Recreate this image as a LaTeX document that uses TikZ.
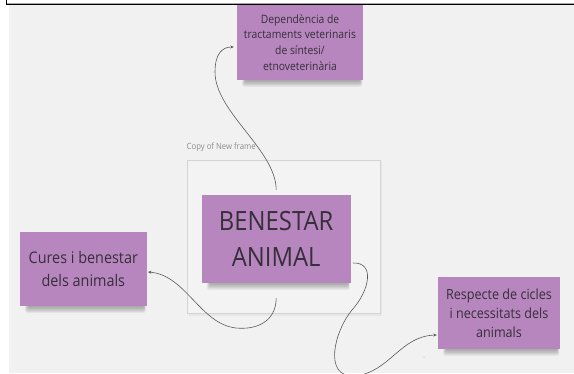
\documentclass[tikz,border=0pt]{standalone}
\usepackage{fontspec}
\setmainfont{Open Sans}[FakeStretch=0.9]
\usetikzlibrary{arrows.meta}
\definecolor{bggray}{HTML}{F1F1F1}
\definecolor{notepurple}{HTML}{B886BE}
\definecolor{notetext}{HTML}{352F3A}
\definecolor{framedraw}{HTML}{D4D4D4}
\definecolor{framefill}{HTML}{F3F3F3}
\definecolor{linkgray}{HTML}{5A5A5A}
\definecolor{lblgray}{HTML}{8C8C8C}
\newcommand\stickyshadow[1]{%
  \foreach \i in {1,...,6}{%
    \fill[black, opacity=0.055, rounded corners=2pt]
      ([xshift={9pt-\i*0.6pt}, yshift=2pt]#1.south west) rectangle
      ([xshift={-3pt+\i*0.3pt}, yshift={-\i*1.1pt}]#1.south east);
  }%
}
\tikzset{
  sticky/.style={fill=notepurple, text=notetext, align=center, inner sep=0pt},
  depnote/.style={sticky, minimum width=126pt, minimum height=75pt, font=\fontsize{11.5}{15.9}\selectfont},
  bennote/.style={sticky, minimum width=149pt, minimum height=88pt, font=\fontsize{26.5}{36.7}\selectfont},
  curnote/.style={sticky, minimum width=126.7pt, minimum height=74.3pt, font=\fontsize{16}{22.3}\selectfont},
  resnote/.style={sticky, minimum width=122pt, minimum height=72pt, font=\fontsize{14}{18.8}\selectfont},
  link/.style={draw=linkgray, line width=0.6pt, -{Stealth[length=3.5pt,width=3pt]}},
}
\begin{document}
\begin{tikzpicture}[x=1pt,y=-1pt]
\clip (0,0) rectangle (574,373);
\fill[white] (0,0) rectangle (574,373);
\fill[bggray] (9,5) rectangle (574,373);
\draw[gray!70, line width=0.6pt] (7,3) -- (575,3);
\draw[black, line width=1.3pt] (6.5,-2) |- (576,4.3);

% frame with a faint shadow
\fill[black, opacity=0.04] (189,162) rectangle (382,315.5);
\node[draw=framedraw, fill=framefill, line width=0.7pt, minimum width=193pt, minimum height=153pt, inner sep=0pt] (frame) at (283.5,236.5) {};
\node[anchor=west, text=lblgray, font=\fontsize{8.6}{9.5}\selectfont, inner sep=0pt] (lbl) at (186.5,147) {Copy of New frame};

% sticky notes (placed to name them, then shadows, then drawn on top)
\node[depnote] (dep) at (300,42.5) {};
\node[bennote] (ben) at (276.2,239) {};
\node[curnote] (cur) at (83.3,269) {};
\node[resnote] (res) at (499,313) {};

\stickyshadow{dep}
\stickyshadow{ben}
\stickyshadow{cur}
\stickyshadow{res}

\node[depnote] at (dep) {Dependència de\\tractaments veterinaris\\de síntesi/\\etnoveterinària};
\node[bennote] at (ben) {BENESTAR\\ANIMAL};
\node[curnote] at (cur) {Cures i benestar\\dels animals};
\node[resnote] at (res) {Respecte de cicles\\i necessitats dels\\animals};

% tiny dots
\fill[red!50] (331,236) circle (0.5pt);
\fill[red!50] (424,357) circle (0.5pt);

% connectors
\draw[link] ([yshift=5pt]ben.north) .. controls (276,150) and (215,112) .. (215,72)
  .. controls (215,54) and (222,47) .. ([xshift=-3pt,yshift=-4.5pt]dep.west);
\draw[link] ([yshift=-15pt]ben.south) .. controls (276,322) and (256,330) .. (236,328)
  .. controls (200,324) and (186,275) .. ([xshift=1pt,yshift=-3pt]cur.east);
\draw[link] ([xshift=2pt,yshift=-24pt]ben.east) .. controls (375,262) and (370,290) .. (352,310)
  .. controls (335,330) and (322,378) .. (355,376)
  .. controls (390,372) and (400,336) .. ([xshift=-1pt,yshift=-22pt]res.west);
\end{tikzpicture}
\end{document}
